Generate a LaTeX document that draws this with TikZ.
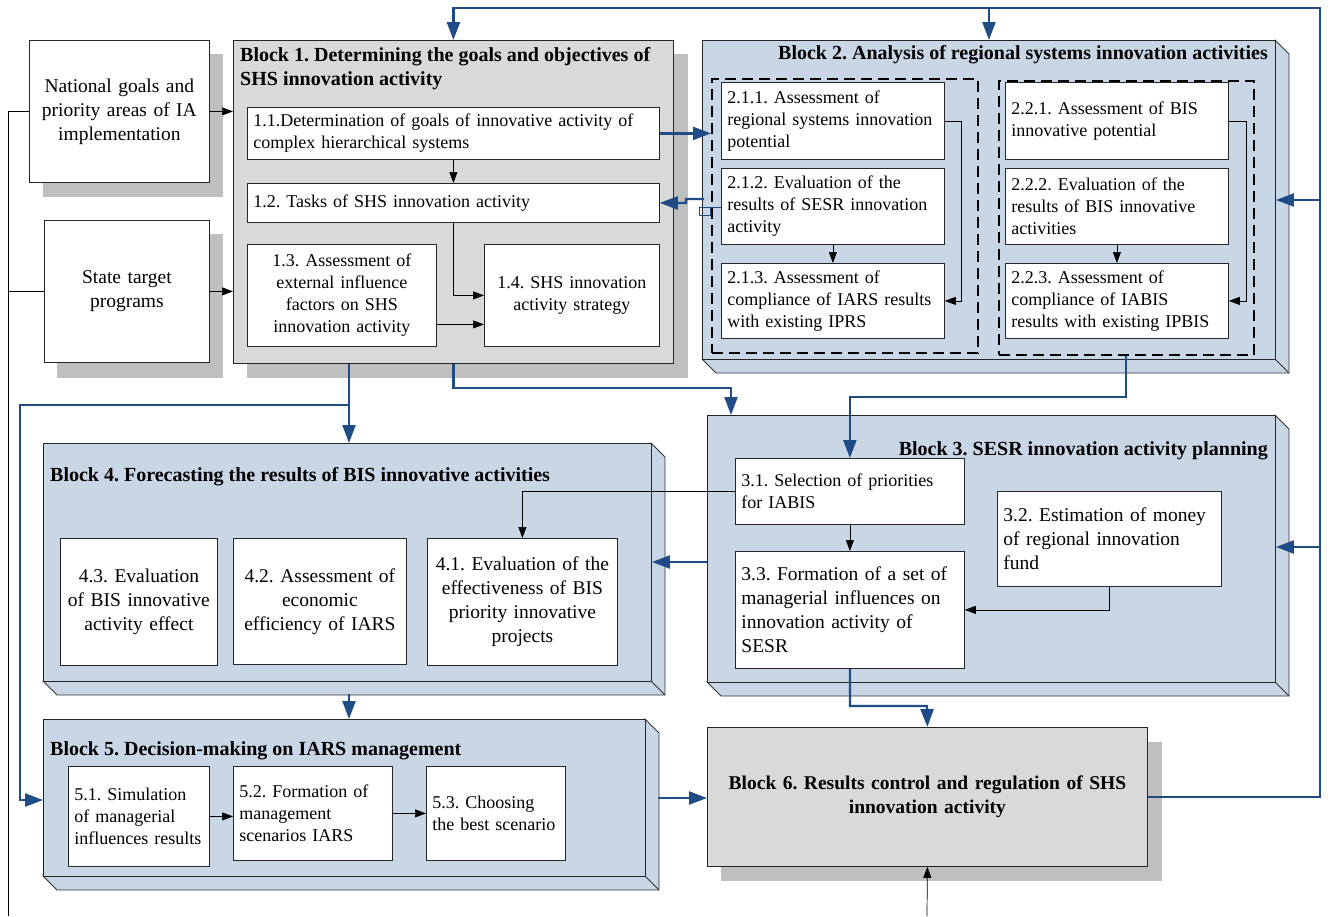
\documentclass[tikz,border=0pt]{standalone}
\usepackage{fontspec}
\setmainfont{Liberation Serif}
\usetikzlibrary{arrows.meta,calc}
\definecolor{gfill}{HTML}{D9D9D9}
\definecolor{shad}{HTML}{BFBFBF}
\definecolor{bfill}{HTML}{C9D6E6}
\definecolor{mblue}{HTML}{1F4B86}
\frenchspacing
\newcommand{\rbox}[7]{%
  \pgfmathsetmacro\rbw{#5-#3}\pgfmathsetmacro\rbh{#6-#4}\pgfmathsetmacro\rbt{#5-#3-12}%
  \node[#2, minimum width=\rbw pt, minimum height=\rbh pt, text width=\rbt pt, anchor=north west] (#1) at (#3,#4) {#7};}
\newcommand{\cubeface}[4]{%
  \filldraw[bfill, draw=black!80, line width=0.8pt] (#3,#2) -- ({#3+14},{#2+14}) -- ({#3+14},{#4+14}) -- ({#1+14},{#4+14}) -- (#1,#4) -- cycle;
  \draw[black!80, line width=0.8pt] (#3,#4) -- ({#3+14},{#4+14});}
\begin{document}
\begin{tikzpicture}[x=1pt,y=-1pt,
  ibox/.style={draw=black!85, fill=white, line width=0.8pt, inner xsep=6pt, inner ysep=0pt, font=\fontsize{18}{22}\selectfont},
  ibig/.style={ibox, font=\fontsize{19.5}{24}\selectfont},
  obox/.style={ibox, font=\fontsize{19.5}{24}\selectfont, align=center},
  gblock/.style={draw=black!85, fill=gfill, line width=0.8pt, inner sep=0pt},
  bblock/.style={draw=black!85, fill=bfill, line width=0.9pt, inner sep=0pt},
  btitle/.style={inner sep=0pt, font=\bfseries\fontsize{20}{24}\selectfont},
  dbox/.style={draw=black, line width=1.6pt, dash pattern=on 11pt off 6pt, inner sep=0pt},
  barr/.style={draw=black, line width=0.7pt, -{Triangle[length=11pt,width=8pt]}},
  bline/.style={draw=black, line width=0.7pt},
  blarr/.style={draw=mblue, line width=2.3pt, -{Triangle[length=18pt,width=13pt]}},
  blline/.style={draw=mblue, line width=2.3pt}
]
\useasboundingbox (0,0) rectangle (1330,916);
% shadows
\fill[shad] (43,54) rectangle (223,197);
\fill[shad] (57,234) rectangle (223,378);
\fill[shad] (247,54) rectangle (688,378);
\fill[shad] (721,742) rectangle (1162,881);
% outer input boxes
\rbox{ng}{obox}{29}{40}{209}{182}{National goals and\\priority areas of IA\\implementation}
\rbox{st}{obox}{44}{220}{209}{362}{State target\\programs}
% Block 1
\rbox{b1}{gblock}{233}{40}{673}{363}{}
\node[btitle, anchor=west, align=left] (t1) at (240,69) {Block 1. Determining the goals and objectives of\\SHS innovation activity};
\rbox{n11}{ibox,align=left}{247}{107}{659}{159}{1.1.Determination of goals of innovative activity of\\complex hierarchical systems}
\rbox{n12}{ibox,align=left}{247}{183}{659}{222}{1.2. Tasks of SHS innovation activity}
\rbox{n13}{ibox,align=center}{247}{244}{436}{346}{1.3. Assessment of\\external influence\\factors on SHS\\innovation activity}
\rbox{n14}{ibox,align=center}{484}{244}{659}{346}{1.4. SHS innovation\\activity strategy}
% Block 2
\cubeface{702}{40}{1275}{359}
\rbox{b2}{bblock}{702}{40}{1275}{359}{}
\node[btitle, anchor=east] (t2) at (1268,55) {Block 2. Analysis of regional systems innovation activities};
\rbox{d1}{dbox}{711}{78}{977}{352}{}
\rbox{d2}{dbox}{998}{80}{1253}{354}{}
\rbox{n211}{ibox,align=left}{721}{82}{944}{159}{2.1.1. Assessment of\\regional systems innovation\\potential}
\rbox{n212}{ibox,align=left}{721}{168}{944}{244}{2.1.2. Evaluation of the\\results of SESR innovation\\activity}
\rbox{n213}{ibox,align=left}{721}{263}{944}{338}{2.1.3. Assessment of\\compliance of IARS results\\with existing IPRS}
\rbox{n221}{ibox,align=left}{1005}{82}{1228}{159}{2.2.1. Assessment of BIS\\innovative potential}
\rbox{n222}{ibox,align=left}{1005}{168}{1228}{244}{2.2.2. Evaluation of the\\results of BIS innovative\\activities}
\rbox{n223}{ibox,align=left}{1005}{263}{1228}{338}{2.2.3. Assessment of\\compliance of IABIS\\results with existing IPBIS}
% Block 3
\cubeface{707}{415}{1275}{682}
\rbox{b3}{bblock}{707}{415}{1275}{682}{}
\node[btitle, anchor=east] (t3) at (1268,451) {Block 3. SESR innovation activity planning};
\rbox{n31}{ibox,align=left}{735}{458}{964}{524}{3.1. Selection of priorities\\for IABIS}
\rbox{n32}{ibig,align=left}{997}{491}{1221}{586}{3.2. Estimation of money\\of regional innovation\\fund}
\rbox{n33}{ibig,align=left}{735}{551}{964}{668}{3.3. Formation of a set of\\managerial influences on\\innovation activity of\\SESR}
% Block 4
\cubeface{43}{443}{651}{681}
\rbox{b4}{bblock}{43}{443}{651}{681}{}
\node[btitle, anchor=west] (t4) at (50,477) {Block 4. Forecasting the results of BIS innovative activities};
\rbox{n43}{ibig,align=center}{60}{538}{217}{665}{4.3. Evaluation\\of BIS innovative\\activity effect}
\rbox{n42}{ibig,align=center}{233}{538}{406}{664}{4.2. Assessment of\\economic\\efficiency of IARS}
\rbox{n41}{ibig,align=center}{427}{538}{617}{665}{4.1. Evaluation of the\\effectiveness of BIS\\priority innovative\\projects}
% Block 5
\cubeface{43}{719}{645}{876}
\rbox{b5}{bblock}{43}{719}{645}{876}{}
\node[btitle, anchor=west] (t5) at (50,751) {Block 5. Decision-making on IARS management};
\rbox{n51}{ibox,align=left}{68}{766}{209}{866}{5.1. Simulation\\of managerial\\influences results}
\rbox{n52}{ibox,align=left}{233}{766}{392}{860}{5.2. Formation of\\management\\scenarios IARS}
\rbox{n53}{ibox,align=left}{426}{766}{565}{860}{5.3. Choosing\\the best scenario}
% Block 6
\rbox{b6}{gblock,align=center,font=\bfseries\fontsize{19.5}{24}\selectfont}{707}{727}{1147}{866}{Block 6. Results control and regulation of SHS\\innovation activity}
% named coordinates
\coordinate (r1) at (1320,8);
\coordinate (k2) at (1320,200);
\coordinate (k3) at (1320,547);
\coordinate (j1) at (349,405);
\coordinate (j2) at (20,800);
\coordinate (j3) at (731,388);
\coordinate (j4) at (1126,397);
\coordinate (j5) at (927,706);
\coordinate (k4) at (707,562);
\coordinate (k5) at (658,798);
\coordinate (k6) at (704,199);
\coordinate (l1) at (8,916);
\coordinate (l2) at (927,916);
% black connectors
\draw[barr] (ng.east) -- (ng.east -| b1.west);
\draw[barr] (st.east) -- (st.east -| b1.west);
\draw[bline] (ng.west) -| (l1);
\draw[bline] (st.west) -- (st.west -| l1);
\draw[barr] (n11.south) -- (n12.north);
\draw[barr] (n12.south) |- (n14.west);
\draw[barr] ([yshift=-29pt]n13.east) -- ([yshift=-29pt]n14.west);
\draw[barr] (n212.south) -- (n213.north);
\draw[barr] (n211.east) -- ++(17,0) |- (n213.east);
\draw[barr] (n222.south) -- (n223.north);
\draw[barr] (n221.east) -- ++(18,0) |- (n223.east);
\draw[barr] (n31.south) -- (n33.north);
\draw[barr] (n32.south) |- (n33.east);
\draw[barr] (n31.west) -| (n41.north);
\draw[barr] (n51.east) -- (n51.east -| n52.west);
\draw[barr] (n52.east) -- (n53.west);
\draw[barr] (l2) -- (b6.south);
% blue connectors
\draw[blarr] (b6.east) -| (r1) -| (b1.north);
\draw[blarr] (b2.north |- r1) -- (b2.north);
\draw[blarr] (k2) -- (k2 -| b2.east);
\draw[blarr] (k3) -- (k3 -| b3.east);
\draw[blarr] (b1.south -| j1) -- (b4.north -| j1);
\draw[blarr] (j1) -| (j2) -- (j2 -| b5.west);
\draw[blarr] (b1.south) |- (j3) -- (j3 |- b3.north);
\draw[blarr] (j4 |- d2.south) -- (j4) -| (n31.north);
\draw[blarr] (k4) -- (k4 -| b4.east);
\draw[blarr] (n33.south) |- (j5) -- (b6.north);
\draw[blarr] ($(b4.south -| j1)+(0,12)$) -- (b5.north -| j1);
\draw[blarr] (k5) -- (k5 -| b6.west);
\draw[blarr] (n11.east) -- (n11.east -| d1.west);
\draw[blarr] (k6) -- ++(-18,0) -- ++(0,4) -- (n12.east);
\draw[mblue, line width=0.5pt] (699,207) rectangle (710,215);
\draw[mblue, line width=0.5pt] (710,207) -- (721,207);
\end{tikzpicture}
\end{document}
